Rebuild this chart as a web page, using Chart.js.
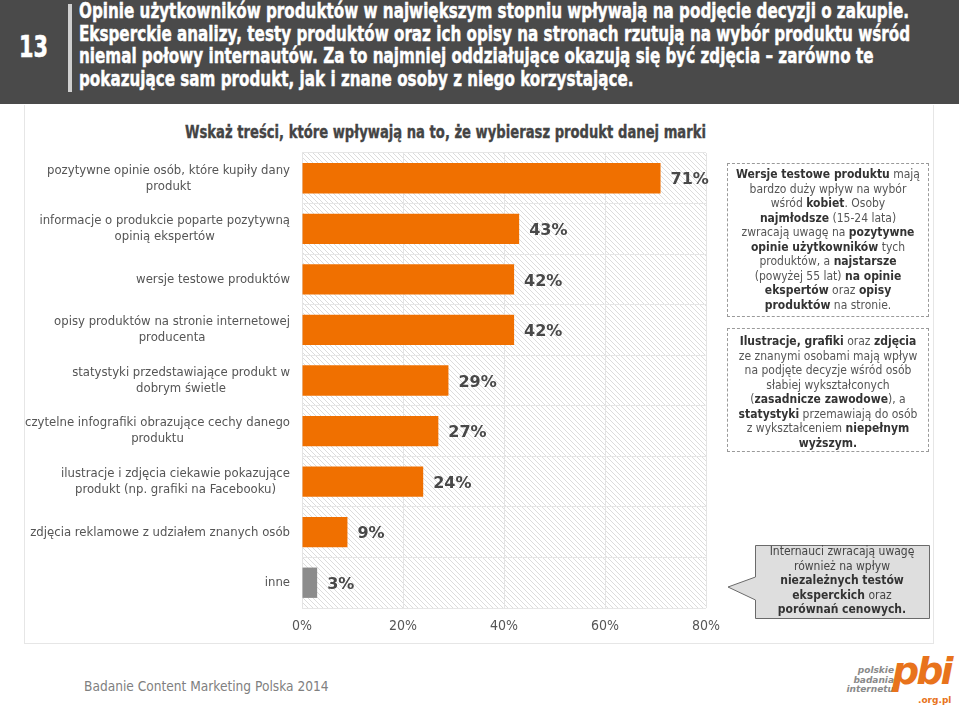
<!DOCTYPE html>
<html><head><meta charset="utf-8">
<script src="https://cdn.jsdelivr.net/npm/chart.js@4.4.1/dist/chart.umd.min.js"></script>
<style>
html,body{margin:0;padding:0}
body{width:959px;height:709px;overflow:hidden;background:#fff;position:relative;font-family:"DejaVu Sans Condensed","DejaVu Sans",sans-serif;}
#header{position:absolute;left:0;top:0;width:959px;height:104px;background:#4a4a4a;}
.fit{position:absolute;white-space:nowrap;transform-origin:0 0;display:inline-block;}
#num{left:19px;top:30px;color:#fff;font:bold 30px/34px "DejaVu Sans",sans-serif;-webkit-text-stroke:0.6px #fff;}
#vbar{position:absolute;left:68px;top:4px;width:4px;height:88px;background:#d0d0d0;}
#htext{left:79px;top:0px;color:#fff;font:bold 22px/22.7px "DejaVu Sans",sans-serif;-webkit-text-stroke:0.5px #fff;}
#panel{position:absolute;left:24px;top:105px;width:908px;height:538px;border:1px solid #e6e6e6;border-top:none;}
#title{left:185px;top:120px;color:#444;font:bold 18px/24px "DejaVu Sans",sans-serif;-webkit-text-stroke:0.4px #444;}
#wrap{position:absolute;left:0px;top:140px;width:730px;height:500px;}
.note{position:absolute;left:727px;width:202px;border:1px dashed #9a9a9a;box-sizing:border-box;text-align:center;color:#555;font-size:12px;line-height:14.5px;}
.note b{color:#333}
#n1{top:163px;height:154px;padding-top:3px;}
#n2{top:328px;height:124px;padding-top:5px;}
#callout{position:absolute;left:720px;top:538px;}
#ctext{position:absolute;left:755px;top:544px;width:174px;text-align:center;color:#444;font-size:12px;line-height:14.5px;}
#ctext b{color:#333}
#footer{position:absolute;left:84px;top:678px;color:#808080;font-size:13.6px;}
#logo1{position:absolute;left:838px;top:666px;width:56px;text-align:right;color:#8a8a8a;font:italic bold 9px/9.5px "DejaVu Sans",sans-serif;}
#logo2{position:absolute;left:892px;top:652px;color:#e8731c;font:italic bold 38px/38px "DejaVu Sans",sans-serif;letter-spacing:-3px;}
#logo3{position:absolute;left:918px;top:695px;color:#e8731c;font:bold 9px "DejaVu Sans",sans-serif;}
</style></head>
<body>
<div id="header">
  <div id="num" class="fit" data-w="29">13</div>
  <div id="vbar"></div>
  <div id="htext" class="fit" data-w="831">Opinie użytkowników produktów w największym stopniu wpływają na podjęcie decyzji o zakupie.<br>Eksperckie analizy, testy produktów oraz ich opisy na stronach rzutują na wybór produktu wśród<br>niemal połowy internautów. Za to najmniej oddziałujące okazują się być zdjęcia – zarówno te<br>pokazujące sam produkt, jak i znane osoby z niego korzystające.</div>
</div>
<div id="panel"></div>
<div id="title" class="fit" data-w="521">Wskaż treści, które wpływają na to, że wybierasz produkt danej marki</div>
<div id="wrap"><canvas id="c"></canvas></div>
<div class="note" id="n1"><b>Wersje testowe produktu</b> mają<br>bardzo duży wpływ na wybór<br>wśród <b>kobiet</b>. Osoby<br><b>najmłodsze</b> (15-24 lata)<br>zwracają uwagę na <b>pozytywne</b><br><b>opinie użytkowników</b> tych<br>produktów, a <b>najstarsze</b><br>(powyżej 55 lat) <b>na opinie</b><br><b>ekspertów</b> oraz <b>opisy</b><br><b>produktów</b> na stronie.</div>
<div class="note" id="n2"><b>Ilustracje, grafiki</b> oraz <b>zdjęcia</b><br>ze znanymi osobami mają wpływ<br>na podjęte decyzje wśród osób<br>słabiej wykształconych<br>(<b>zasadnicze zawodowe</b>), a<br><b>statystyki</b> przemawiają do osób<br>z wykształceniem <b>niepełnym</b><br><b>wyższym.</b></div>
<svg id="callout" width="215" height="85"><path d="M35.5,7.5 H209.5 V80.5 H35.5 V62 L8,49 L35.5,39 Z" fill="#dedede" stroke="#6a6a6a" stroke-width="1"/></svg>
<div id="ctext">Internauci zwracają uwagę<br>również na wpływ<br><b>niezależnych testów</b><br><b>eksperckich</b> oraz<br><b>porównań cenowych.</b></div>
<div id="footer">Badanie Content Marketing Polska 2014</div>
<div id="logo1">polskie<br>badania<br>internetu</div>
<div id="logo2">pbi</div>
<div id="logo3">.org.pl</div>
<script>
document.querySelectorAll('.fit').forEach(el=>{
  const w = el.getBoundingClientRect().width;
  const target = +el.dataset.w;
  el.style.transform = 'scaleX(' + (target/w) + ')';
});

const categories = [
  ["pozytywne opinie osób, które kupiły dany","produkt"],
  ["informacje o produkcie poparte pozytywną","opinią ekspertów"],
  ["wersje testowe produktów"],
  ["opisy produktów na stronie internetowej","producenta"],
  ["statystyki przedstawiające produkt w","dobrym świetle"],
  ["czytelne infografiki obrazujące cechy danego","produktu"],
  ["ilustracje i zdjęcia ciekawie pokazujące","produkt (np. grafiki na Facebooku)"],
  ["zdjęcia reklamowe z udziałem znanych osób"],
  ["inne"]
];
const values = [71,43,42,42,29,27,24,9,3];
const barColors = ["#f07000","#f07000","#f07000","#f07000","#f07000","#f07000","#f07000","#f07000","#8c8c8c"];
const xTicks = [0,20,40,60,80];

const LABEL_FONT = '13px "DejaVu Sans Condensed", "DejaVu Sans", sans-serif';

function hatchPattern(ctx){
  const t = document.createElement('canvas');
  t.width = 5; t.height = 5;
  const g = t.getContext('2d');
  g.fillStyle = '#ffffff'; g.fillRect(0,0,5,5);
  g.strokeStyle = '#dcdcdc'; g.lineWidth = 1;
  g.beginPath();
  g.moveTo(-1,-1); g.lineTo(6,6);
  g.moveTo(-1,4); g.lineTo(1,6);
  g.moveTo(4,-1); g.lineTo(6,1);
  g.stroke();
  return ctx.createPattern(t,'repeat');
}

const hatchPlugin = {
  id:'hatch',
  beforeDraw(chart){
    const {ctx, chartArea:a} = chart;
    ctx.save();
    ctx.fillStyle = hatchPattern(ctx);
    ctx.fillRect(a.left, a.top, a.right-a.left, a.bottom-a.top);
    ctx.restore();
  }
};

const yLabelPlugin = {
  id:'ylabels',
  afterDraw(chart){
    const {ctx} = chart;
    const ys = chart.scales.y;
    const right = ys.right - 12;
    ctx.save();
    ctx.font = LABEL_FONT;
    ctx.fillStyle = '#555';
    ctx.textAlign = 'center';
    ctx.textBaseline = 'middle';
    categories.forEach((lines,i)=>{
      const y = ys.getPixelForTick(i);
      const w = Math.max(...lines.map(l=>ctx.measureText(l).width));
      const cx = right - w/2;
      const lh = 16;
      const y0 = y - (lines.length-1)*lh/2;
      lines.forEach((l,j)=>ctx.fillText(l, cx, y0 + j*lh));
    });
    ctx.restore();
  }
};

const valueLabelPlugin = {
  id:'vlabels',
  afterDatasetsDraw(chart){
    const {ctx} = chart;
    const meta = chart.getDatasetMeta(0);
    ctx.save();
    ctx.font = 'bold 16px "DejaVu Sans", sans-serif';
    ctx.fillStyle = '#484848';
    ctx.textAlign = 'left';
    ctx.textBaseline = 'middle';
    meta.data.forEach((bar,i)=>{
      ctx.fillText(values[i]+'%', bar.x + 10, bar.y + 2);
    });
    ctx.restore();
  }
};

new Chart(document.getElementById('c'), {
  type:'bar',
  data:{
    labels: categories,
    datasets:[{data: values, backgroundColor: barColors, borderWidth:0,
      categoryPercentage:1, barPercentage:0.6}]
  },
  options:{
    indexAxis:'y',
    responsive:true, maintainAspectRatio:false, animation:false,
    layout:{padding:{top:13,right:22,bottom:0,left:0}},
    plugins:{legend:{display:false}, tooltip:{enabled:false}},
    scales:{
      x:{
        min:0, max:80,
        afterBuildTicks(s){ s.ticks = xTicks.map(v=>({value:v})); },
        afterFit(s){ s.height = 32; },
        grid:{color:'#e4e4e4', drawTicks:false},
        border:{display:false},
        ticks:{padding:10, color:'#555', font:{family:'"DejaVu Sans Condensed", "DejaVu Sans", sans-serif', size:14},
          callback:v=>v+'%'}
      },
      y:{
        afterFit(s){ s.width = 302; },
        grid:{color:'#e6e6e6', offset:true, drawTicks:false},
        border:{display:false},
        ticks:{display:false}
      }
    }
  },
  plugins:[hatchPlugin, yLabelPlugin, valueLabelPlugin]
});
</script>
</body></html>
